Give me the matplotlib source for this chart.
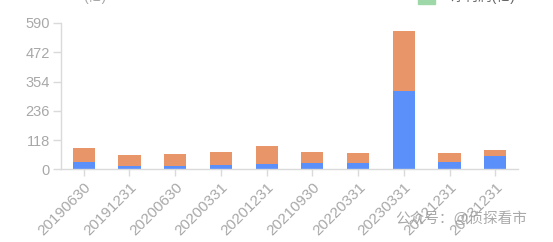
import matplotlib
matplotlib.use("Agg")
import matplotlib.pyplot as plt
import numpy as np

plt.rcParams['font.family'] = ['Liberation Sans', 'Noto Sans CJK SC', 'DejaVu Sans']

categories = ["20190630", "20191231", "20200630", "20200331", "20201231",
              "20210930", "20220331", "20230331", "20221231", "20231231"]
blue_vals = [31, 15, 14, 19, 23, 25, 25, 316, 30, 56]
orange_vals = [54, 43, 48, 50, 70, 47, 41, 243, 35, 24]
yticks = [0, 118, 236, 354, 472, 590]

blue_c = "#5B8FF9"
orange_c = "#E8956A"
grey_txt = "#A8A8A8"
axis_c = "#DADADA"

fig = plt.figure(figsize=(5.53, 2.42), dpi=100)
ax = fig.add_axes([0.110, 0.2996, 0.827, 0.6054])

x = np.arange(len(categories))
w = 0.485
ax.bar(x, blue_vals, width=w, color=blue_c, zorder=2)
ax.bar(x, orange_vals, width=w, bottom=blue_vals, color=orange_c, zorder=2)

ax.set_xlim(-0.5, len(categories) - 0.5)
ax.set_ylim(0, 590)
ax.set_yticks(yticks)
ax.set_yticklabels([str(t) for t in yticks])
ax.set_xticks(x)
ax.set_xticklabels(categories, rotation=45, ha="right", va="top",
                   rotation_mode="anchor")

for s in ["top", "right"]:
    ax.spines[s].set_visible(False)
for s in ["left", "bottom"]:
    ax.spines[s].set_color(axis_c)
    ax.spines[s].set_linewidth(1.0)

ax.tick_params(axis="y", length=6, width=1, color=axis_c, labelcolor=grey_txt,
               labelsize=10.5, pad=2)
ax.tick_params(axis="x", length=5, width=1, color=axis_c, labelcolor=grey_txt,
               labelsize=11, pad=3)

# partially cut header fragments
fig.text(0.150, 1.015, "(亿)", color=grey_txt, fontsize=10, ha="left", va="center")
fig.patches.append(matplotlib.patches.Rectangle((0.756, 0.985), 0.031, 0.03,
                   transform=fig.transFigure, color="#9FD8A8", figure=fig))
fig.text(0.815, 1.015, "净利润(亿)", color="#666666", fontsize=10, ha="left", va="center")

# watermark
fig.text(0.715, 0.095, "公众号：@侦探看市", color="#9A9A9A", fontsize=10.5,
         ha="left", va="center", alpha=0.85)

fig.savefig("out.png", dpi=100)
